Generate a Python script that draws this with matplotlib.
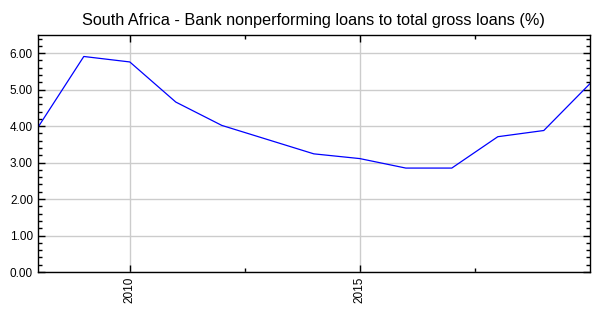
import matplotlib
matplotlib.use('Agg')
import matplotlib.pyplot as plt
from matplotlib.ticker import MultipleLocator, FormatStrFormatter

# Данные
years = [2008, 2009, 2010, 2011, 2012, 2013, 2014, 2015, 2016, 2017, 2018, 2019, 2020]
npl_ratio = [3.96, 5.91, 5.76, 4.66, 4.02, 3.63, 3.24, 3.11, 2.85, 2.85, 3.71, 3.88, 5.16]
x_ticks = [2010, 2015]
x_minor_ticks = [2012.5, 2017.5]

plt.rcParams['font.family'] = ['Liberation Sans', 'DejaVu Sans']

fig = plt.figure(figsize=(6, 3.15), dpi=100)
ax = fig.add_axes([0.063, 0.1365, 0.92, 0.7525])

ax.plot(years, npl_ratio, color='#0000ff', linewidth=0.9)

ax.set_xlim(2008, 2020)
ax.set_ylim(0, 6.5)

# Тики
ax.set_xticks(x_ticks)
ax.set_xticks(x_minor_ticks, minor=True)
ax.yaxis.set_major_locator(MultipleLocator(1))
ax.yaxis.set_minor_locator(MultipleLocator(0.2))
ax.yaxis.set_major_formatter(FormatStrFormatter('%.2f'))
ax.tick_params(which='both', direction='in', top=True, right=True, labelsize=8.5)
ax.tick_params(which='major', length=5, width=1)
ax.tick_params(which='minor', length=3, width=1)
ax.tick_params(axis='x', labelrotation=90)

ax.grid(which='major', color='#cccccc', linewidth=1)
ax.set_axisbelow(True)
for spine in ax.spines.values():
    spine.set_linewidth(1)

ax.set_title('South Africa - Bank nonperforming loans to total gross loans (%)', fontsize=11.7, pad=7)

plt.savefig('out.png', dpi=100)
plt.close()
